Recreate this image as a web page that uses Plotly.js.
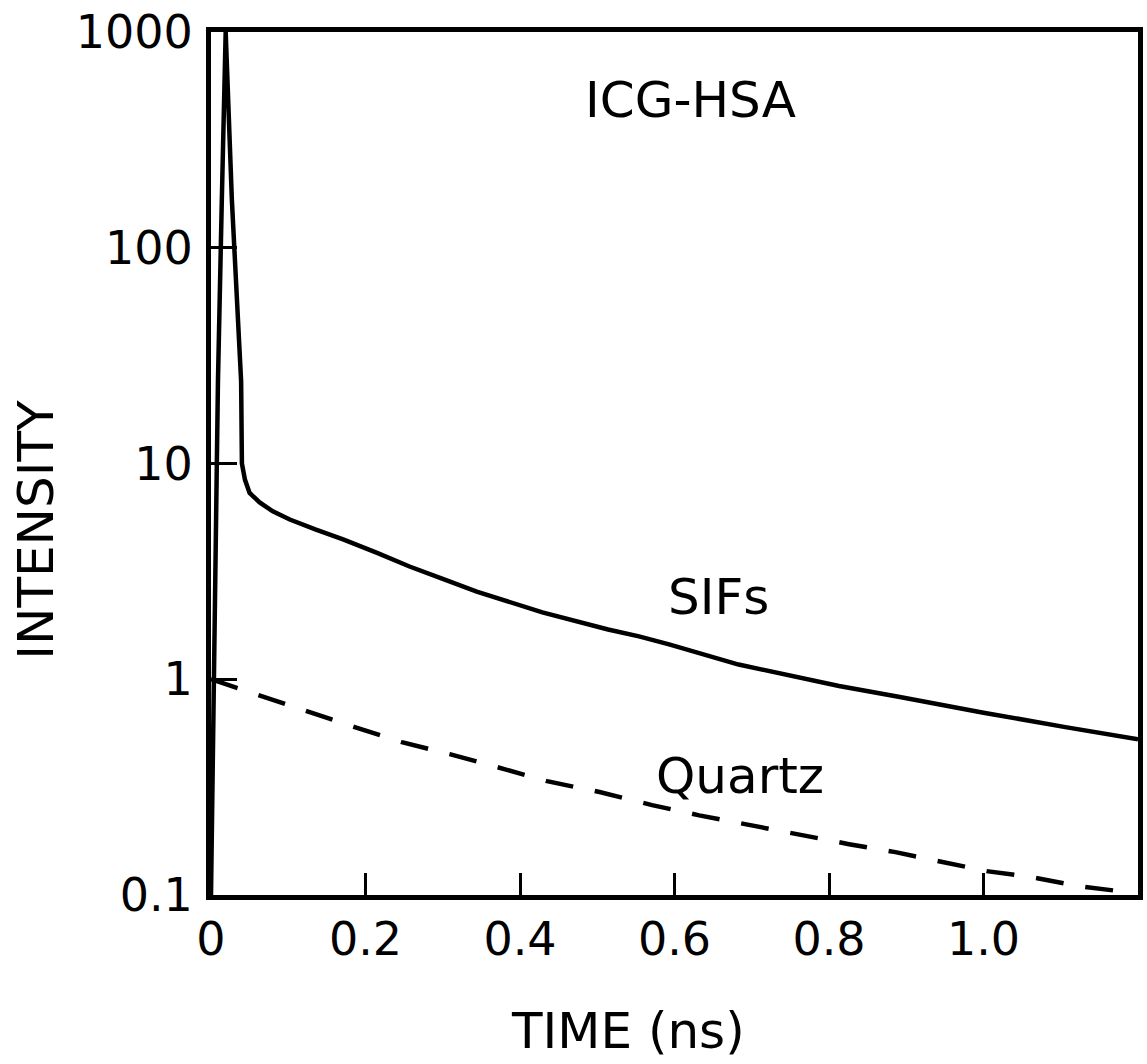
<!DOCTYPE html>
<html>
<head>
<meta charset="utf-8">
<script src="https://cdn.plot.ly/plotly-3.0.1.min.js"></script>
<style>
  html, body { margin: 0; padding: 0; background: #ffffff; }
  #chart { width: 1147px; height: 1064px; }
</style>
</head>
<body>
<div id="chart"></div>
<script>
// SIFs (ICG-HSA) decay, time in ns
const sifsTime = [0.000, 0.009, 0.014, 0.019, 0.027, 0.039, 0.040, 0.044, 0.050, 0.063, 0.080, 0.102, 0.135, 0.171, 0.215, 0.257, 0.300, 0.344, 0.429, 0.514, 0.554, 0.593, 0.683, 0.813, 0.890, 0.942, 1.000, 1.106, 1.200];
const sifsIntensity = [0.1, 24, 167, 1000, 167, 24, 10, 8.4, 7.3, 6.6, 6.0, 5.5, 4.95, 4.45, 3.85, 3.33, 2.92, 2.55, 2.04, 1.70, 1.58, 1.45, 1.17, 0.93, 0.83, 0.77, 0.70, 0.60, 0.527];

// Quartz reference decay
const quartzTime = [0.000, 0.057, 0.121, 0.186, 0.247, 0.309, 0.370, 0.435, 0.503, 0.571, 0.632, 0.696, 0.761, 0.826, 0.886, 0.946, 1.004, 1.062, 1.123, 1.187];
const quartzIntensity = [1.0, 0.853, 0.711, 0.600, 0.511, 0.450, 0.392, 0.337, 0.300, 0.261, 0.234, 0.211, 0.190, 0.172, 0.158, 0.142, 0.129, 0.121, 0.110, 0.103];

// Tick labels
const xTickVals = [0, 0.2, 0.4, 0.6, 0.8, 1.0];
const xTickText = ["0", "0.2", "0.4", "0.6", "0.8", "1.0"];
const yTickVals = [0.1, 1, 10, 100, 1000];
const yTickText = ["0.1", "1", "10", "100", "1000"];

// Text labels
const chartLabel = "ICG-HSA";
const seriesLabels = ["SIFs", "Quartz"];
const xTitle = "TIME (ns)";
const yTitle = "INTENSITY";

const FONT = "DejaVu Sans, Arial, sans-serif";

const traces = [
  {
    x: sifsTime, y: sifsIntensity, type: "scatter", mode: "lines",
    name: seriesLabels[0],
    line: { color: "#000000", width: 4.5 }
  },
  {
    x: quartzTime, y: quartzIntensity, type: "scatter", mode: "lines",
    name: seriesLabels[1],
    line: { color: "#000000", width: 4.5, dash: "28px,22px" }
  }
];

const layout = {
  width: 1147, height: 1064,
  paper_bgcolor: "#ffffff", plot_bgcolor: "#ffffff",
  showlegend: false,
  margin: { l: 211, r: 9, t: 32, b: 169, pad: 0 },
  font: { family: FONT, color: "#000000" },
  xaxis: {
    range: [0, 1.2], showgrid: false, zeroline: false,
    showline: true, linecolor: "#000000", linewidth: 5, mirror: true,
    ticks: "inside", ticklen: 22, tickwidth: 3, tickcolor: "#000000",
    tickvals: xTickVals, ticktext: xTickText,
    tickfont: { family: FONT, size: 46, color: "#000000" },
    ticklabelstandoff: 0
  },
  yaxis: {
    type: "log", range: [-1, 3], showgrid: false, zeroline: false,
    showline: true, linecolor: "#000000", linewidth: 5, mirror: true,
    ticks: "inside", ticklen: 26, tickwidth: 3, tickcolor: "#000000",
    tickvals: yTickVals, ticktext: yTickText,
    tickfont: { family: FONT, size: 46, color: "#000000" },
    ticklabelstandoff: 4
  },
  annotations: [
    { text: chartLabel, xref: "paper", yref: "paper", x: 0.517, y: 0.921,
      xanchor: "center", yanchor: "middle", showarrow: false,
      font: { family: FONT, size: 50, color: "#000000" } },
    { text: seriesLabels[0], xref: "paper", yref: "paper", x: 0.547, y: 0.345,
      xanchor: "center", yanchor: "middle", showarrow: false,
      font: { family: FONT, size: 50, color: "#000000" } },
    { text: seriesLabels[1], xref: "paper", yref: "paper", x: 0.571, y: 0.138,
      xanchor: "center", yanchor: "middle", showarrow: false,
      font: { family: FONT, size: 50, color: "#000000" } },
    { text: xTitle, xref: "paper", yref: "paper", x: 0.45, y: -0.158,
      xanchor: "center", yanchor: "middle", showarrow: false,
      font: { family: FONT, size: 50, color: "#000000" } },
    { text: yTitle, xref: "paper", yref: "paper", x: -0.189, y: 0.423,
      xanchor: "center", yanchor: "middle", showarrow: false, textangle: -90,
      font: { family: FONT, size: 50, color: "#000000" } }
  ]
};

Plotly.newPlot("chart", traces, layout, { displayModeBar: false, staticPlot: true });
</script>
</body>
</html>
